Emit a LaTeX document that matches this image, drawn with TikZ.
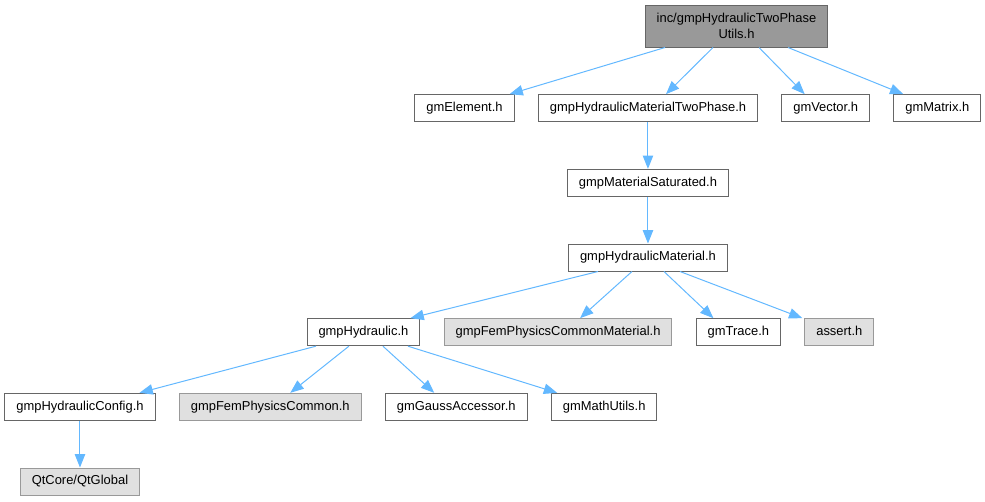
\documentclass[tikz,border=0pt]{standalone}
\usepackage{fontspec}
\setmainfont{Liberation Sans}
\usetikzlibrary{positioning,calc,arrows.meta}
\definecolor{edgeblue}{HTML}{63B8FF}
\definecolor{boxline}{HTML}{666666}
\definecolor{greyline}{HTML}{999999}
\definecolor{greyfill}{HTML}{E0E0E0}
\definecolor{rootfill}{HTML}{999999}
\tikzstyle{hdr} = [rectangle, draw=boxline, fill=white, line width=0.75pt, inner xsep=8.6pt, inner ysep=0pt, minimum height=20.25pt, text height=7.2pt, text depth=2.2pt]
\tikzstyle{syshdr} = [hdr, draw=greyline, fill=greyfill]
\tikzstyle{roothdr} = [rectangle, draw=boxline, fill=rootfill, line width=0.75pt, inner xsep=8.6pt, inner ysep=0pt, minimum height=31.5pt, align=center]

\begin{document}
\begin{tikzpicture}[->,>={Triangle[length=10pt,width=7.8pt]},x=0.75pt,y=-0.75pt,node distance=35pt and 17.5pt,font=\fontsize{9.7}{11.6}\selectfont,every edge/.append style={draw=edgeblue},line width=0.75pt]
  \useasboundingbox (0,0) rectangle (985,501);
  \node[roothdr] (utils) at (736.5,26) {inc/gmpHydraulicTwoPhase\\Utils.h};
  \node[hdr] (twophase) [below=of utils, xshift=-66.4pt] {gmpHydraulicMaterialTwoPhase.h};
  \node[hdr] (element) [left=of twophase] {gmElement.h};
  \node[hdr] (vector) [right=of twophase] {gmVector.h};
  \node[hdr] (matrix) [right=of vector] {gmMatrix.h};
  \node[hdr] (saturated) [below=of twophase] {gmpMaterialSaturated.h};
  \node[hdr] (hmaterial) [below=of saturated] {gmpHydraulicMaterial.h};
  \node[hdr] (hydraulic) [below=of hmaterial, xshift=-213.4pt] {gmpHydraulic.h};
  \node[syshdr] (femmat) [right=of hydraulic] {gmpFemPhysicsCommonMaterial.h};
  \node[hdr] (trace) [right=of femmat] {gmTrace.h};
  \node[syshdr] (assert) [right=of trace] {assert.h};
  \node[hdr] (config) [below=of hydraulic, xshift=-212.6pt] {gmpHydraulicConfig.h};
  \node[syshdr] (femcommon) [right=of config] {gmpFemPhysicsCommon.h};
  \node[hdr] (gauss) [right=of femcommon] {gmGaussAccessor.h};
  \node[hdr] (mathutils) [right=of gauss] {gmMathUtils.h};
  \node[syshdr] (qtglobal) [below=of config] {QtCore/QtGlobal};

  \path ($(utils.south)+(-71.5,0)$) edge ($(element.north east)+(-5,0)$);
  \path ($(utils.south)+(-23.5,0)$) edge ($(twophase.north)+(18,0)$);
  \path ($(utils.south)+(22.5,0)$) edge ($(vector.north)+(-21,0)$);
  \path ($(utils.south)+(51.5,0)$) edge ($(matrix.north)+(-34,0)$);
  \path (twophase) edge (saturated);
  \path (saturated) edge (hmaterial);
  \path ($(hmaterial.south)+(-50,0)$) edge ($(hydraulic.north)+(47,0)$);
  \path ($(hmaterial.south)+(-16,0)$) edge ($(femmat.north)+(22,0)$);
  \path ($(hmaterial.south)+(16,0)$) edge ($(trace.north)+(-25,0)$);
  \path ($(hmaterial.south)+(32,0)$) edge ($(assert.north west)+(-2,0)$);
  \path ($(hydraulic.south)+(-47.5,0)$) edge ($(config.north)+(59.5,0)$);
  \path ($(hydraulic.south)+(-14.5,0)$) edge ($(femcommon.north)+(20,0)$);
  \path ($(hydraulic.south)+(19.5,0)$) edge ($(gauss.north)+(-22,0)$);
  \path ($(hydraulic.south)+(44.5,0)$) edge ($(mathutils.north)+(-47,0)$);
  \path (config) edge (qtglobal);
\end{tikzpicture}
\end{document}
